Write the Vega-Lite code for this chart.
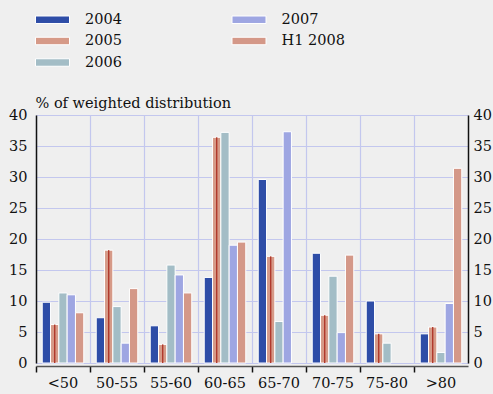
{
  "$schema": "https://vega.github.io/schema/vega-lite/v6.json",
  "autosize": "none",
  "width": 432,
  "height": 248,
  "padding": {"left": 36, "top": 115, "right": 25, "bottom": 31},
  "background": "#EFEFEF",
  "config": {
    "view": {"stroke": null},
    "font": "DejaVu Serif",
    "axis": {"labelFont": "DejaVu Serif", "labelFontSize": 14.5, "labelColor": "#111", "titleFont": "DejaVu Serif", "titleFontSize": 14.5, "titleFontWeight": "normal", "titleColor": "#111", "gridColor": "#C3C7EE", "gridOpacity": 1, "gridWidth": 1.2},
    "legend": {"labelFont": "DejaVu Serif", "labelFontSize": 14.5, "labelColor": "#111"}
  },
  "data": {"values": [
    {"band": "<50", "year": "2004", "value": 9.8},
    {"band": "<50", "year": "2005", "value": 6.2},
    {"band": "<50", "year": "2006", "value": 11.3},
    {"band": "<50", "year": "2007", "value": 11.0},
    {"band": "<50", "year": "H1 2008", "value": 8.1},
    {"band": "50-55", "year": "2004", "value": 7.3},
    {"band": "50-55", "year": "2005", "value": 18.2},
    {"band": "50-55", "year": "2006", "value": 9.1},
    {"band": "50-55", "year": "2007", "value": 3.2},
    {"band": "50-55", "year": "H1 2008", "value": 12.0},
    {"band": "55-60", "year": "2004", "value": 6.0},
    {"band": "55-60", "year": "2005", "value": 3.0},
    {"band": "55-60", "year": "2006", "value": 15.8},
    {"band": "55-60", "year": "2007", "value": 14.2},
    {"band": "55-60", "year": "H1 2008", "value": 11.3},
    {"band": "60-65", "year": "2004", "value": 13.8},
    {"band": "60-65", "year": "2005", "value": 36.4},
    {"band": "60-65", "year": "2006", "value": 37.2},
    {"band": "60-65", "year": "2007", "value": 19.0},
    {"band": "60-65", "year": "H1 2008", "value": 19.5},
    {"band": "65-70", "year": "2004", "value": 29.6},
    {"band": "65-70", "year": "2005", "value": 17.2},
    {"band": "65-70", "year": "2006", "value": 6.7},
    {"band": "65-70", "year": "2007", "value": 37.3},
    {"band": "65-70", "year": "H1 2008", "value": null},
    {"band": "70-75", "year": "2004", "value": 17.7},
    {"band": "70-75", "year": "2005", "value": 7.7},
    {"band": "70-75", "year": "2006", "value": 14.0},
    {"band": "70-75", "year": "2007", "value": 4.9},
    {"band": "70-75", "year": "H1 2008", "value": 17.4},
    {"band": "75-80", "year": "2004", "value": 10.0},
    {"band": "75-80", "year": "2005", "value": 4.7},
    {"band": "75-80", "year": "2006", "value": 3.2},
    {"band": "75-80", "year": "2007", "value": null},
    {"band": "75-80", "year": "H1 2008", "value": null},
    {"band": ">80", "year": "2004", "value": 4.7},
    {"band": ">80", "year": "2005", "value": 5.8},
    {"band": ">80", "year": "2006", "value": 1.7},
    {"band": ">80", "year": "2007", "value": 9.6},
    {"band": ">80", "year": "H1 2008", "value": 31.4}
  ]},
  "encoding": {
    "x": {"field": "band", "type": "nominal", "sort": null,
      "scale": {"paddingInner": 0, "paddingOuter": 0},
      "axis": {"title": null, "labelAngle": 0, "bandPosition": 0, "grid": true, "offset": 3, "domainColor": "#555", "domainWidth": 1.5, "tickColor": "#111", "tickSize": 6, "tickWidth": 1.5, "labelPadding": 4, "labelBaseline": "top"}},
    "xOffset": {"field": "year", "type": "nominal", "scale": {"paddingInner": 0, "paddingOuter": 0.75}},
    "y": {"field": "value", "type": "quantitative", "scale": {"domain": [0, 40], "nice": false}}
  },
  "layer": [
    {
      "mark": {"type": "bar", "stroke": "white", "strokeWidth": 1},
      "encoding": {
        "y": {"field": "value", "type": "quantitative", "scale": {"domain": [0, 40], "nice": false},
          "axis": {"orient": "left", "values": [0, 5, 10, 15, 20, 25, 30, 35, 40], "grid": true, "ticks": false, "domainColor": "#111", "domainWidth": 1.5, "labelPadding": 9,
            "title": "% of weighted distribution", "titleAngle": 0, "titleAlign": "left", "titleBaseline": "alphabetic", "titleX": -1, "titleY": -8}},
        "color": {"field": "year", "type": "nominal",
          "scale": {"domain": ["2004", "2005", "2006", "2007", "H1 2008"], "range": ["#2E4DA7", "#D69A88", "#A3BDC6", "#9EA6E2", "#D49888"]},
          "legend": {"title": null, "orient": "none", "legendX": 7.5, "legendY": -104.5, "columns": 2, "columnPadding": 107.5, "rowPadding": 5.5, "labelOffset": 23.5,
            "symbolType": "M-2,-0.44H2V0.44H-2Z", "symbolSize": 289, "symbolStrokeColor": "white", "symbolStrokeWidth": 1, "symbolOpacity": 1}}
      }
    },
    {
      "transform": [{"filter": "datum.year == '2005'"}],
      "mark": {"type": "bar", "width": 1.4, "color": "#B0392C"},
      "encoding": {
        "y": {"field": "value", "type": "quantitative", "scale": {"domain": [0, 40], "nice": false},
          "axis": {"orient": "right", "values": [0, 5, 10, 15, 20, 25, 30, 35, 40], "grid": false, "ticks": false, "domainColor": "#111", "domainWidth": 1.5, "labelPadding": 5, "title": null}}
      }
    }
  ],
  "resolve": {"axis": {"y": "independent"}, "scale": {"y": "shared"}}
}
